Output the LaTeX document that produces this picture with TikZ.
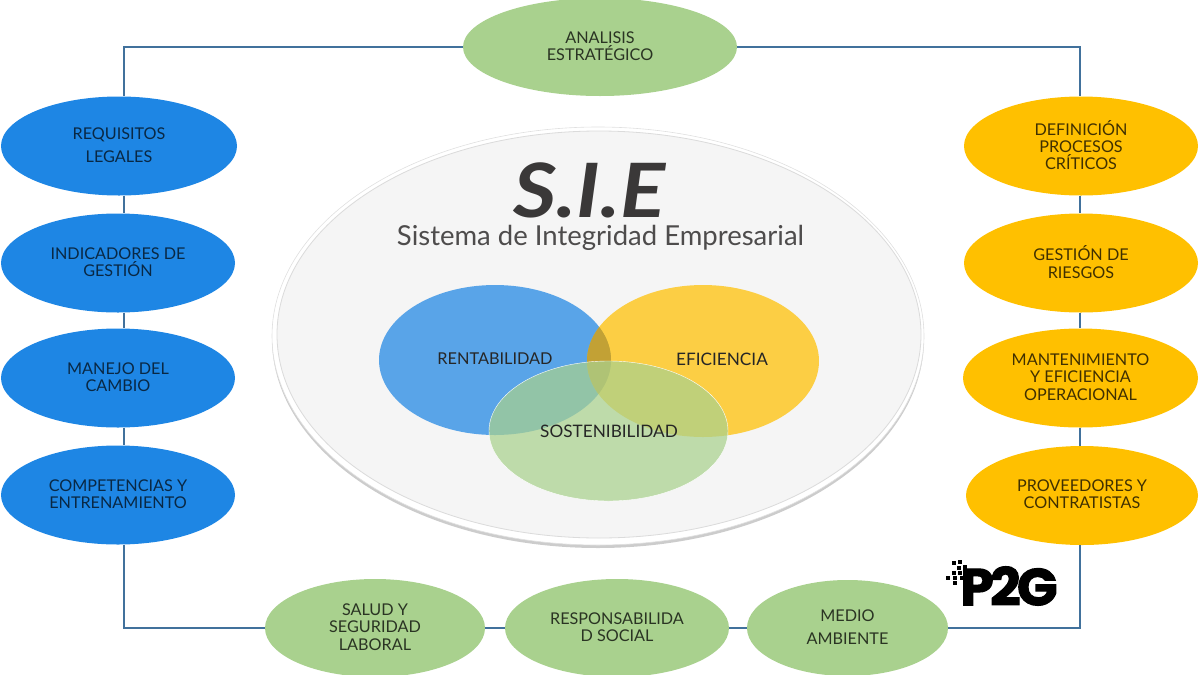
\documentclass[tikz,border=0pt]{standalone}
\usepackage{fontspec}
\setmainfont{Lato}
\newfontfamily\logofont[LetterSpace=-7,FakeBold=2]{Poppins}
\usetikzlibrary{shapes.geometric,shadows}
\definecolor{sieblue}{HTML}{1E86E4}
\definecolor{sieorange}{HTML}{FFC000}
\definecolor{siegreen}{HTML}{A9D18E}
\definecolor{sieline}{HTML}{41719C}
\definecolor{sieink}{HTML}{3A3838}
\definecolor{siebg}{HTML}{F5F5F5}
\definecolor{sieolive}{HTML}{C2A135}

\begin{document}
\begin{tikzpicture}[x=1pt,y=-1pt]
  \tikzstyle{oval}=[ellipse,inner sep=0pt,minimum width=234pt,minimum height=99pt,align=center,
    text depth=2pt,font=\fontsize{16.2}{17.2}\selectfont]
  \tikzstyle{bl}=[oval,fill=sieblue,text=sieblue!30!black]
  \tikzstyle{or}=[oval,fill=sieorange,text=sieorange!25!black]
  \tikzstyle{gr}=[oval,fill=siegreen,text=siegreen!25!black]
  \tikzstyle{venn}=[ellipse,inner sep=0pt,fill opacity=0.72]
  \tikzstyle{lab}=[font=\fontsize{16.3}{20}\selectfont,text=black!85]
  \tikzstyle{ln}=[draw=sieline,line width=1.8pt]
  \useasboundingbox (0,0) rectangle (1200,675);

  \node[ellipse,minimum width=652pt,minimum height=418pt,fill=white,draw=black!12,line width=0.6pt,
    drop shadow={shadow xshift=0pt,shadow yshift=-3pt,opacity=0.4}] (sieout) at (598,336) {};
  \node[ellipse,minimum width=644pt,minimum height=407pt,fill=siebg,draw=black!14,line width=0.8pt] (sie) at (599,334.5) {};

  \node[xscale=1.12,inner sep=0pt,font=\fontsize{75}{75}\selectfont\itshape\bfseries,text=sieink] (sigla) at (589.5,190) {S.I.E};
  \node[inner sep=0pt,font=\fontsize{27.5}{30}\selectfont,text=sieink!90] (nombre) at (600.5,238) {Sistema de Integridad Empresarial};

  \node[venn,fill=sieblue,minimum width=232pt,minimum height=150pt] (rent) at (495,360) {};
  \node[venn,fill=sieorange,minimum width=232pt,minimum height=152pt] (efi) at (703,361) {};
  \begin{scope}
    \clip (495,360) ellipse (116 and 75);
    \fill[sieolive] (703,361) ellipse (116 and 76);
  \end{scope}
  \node[venn,fill=siegreen,draw=white,minimum width=239pt,minimum height=140pt] (sos) at (608.5,431) {};
  \node[lab] (trent) at (495,359) {RENTABILIDAD};
  \node[lab,font=\fontsize{17.2}{20}\selectfont] (tefi) at (722,359) {EFICIENCIA};
  \node[lab,font=\fontsize{17.2}{20}\selectfont] (tsos) at (609,431) {SOSTENIBILIDAD};

  \node[gr,minimum width=274pt,minimum height=98pt] (ana) at (600,47) {ANALISIS\\ESTRATÉGICO};

  \node[bl,minimum width=236pt] (req) at (119,146) {REQUISITOS\\[6.5pt]LEGALES};
  \node[bl] (ind) at (118,263) {INDICADORES DE\\GESTIÓN};
  \node[bl] (man) at (118,378) {MANEJO DEL\\CAMBIO};
  \node[bl] (com) at (118,495) {COMPETENCIAS Y\\ENTRENAMIENTO};

  \node[or] (def) at (1081,146) {DEFINICIÓN\\PROCESOS\\CRÍTICOS};
  \node[or] (ges) at (1081,263) {GESTIÓN DE\\RIESGOS};
  \node[or,minimum width=235pt] (mant) at (1080.5,378) {MANTENIMIENTO\\Y EFICIENCIA\\OPERACIONAL};
  \node[or,minimum width=232pt] (pro) at (1082,495.5) {PROVEEDORES Y\\CONTRATISTAS};

  \node[gr,minimum width=220pt,minimum height=98pt] (sal) at (375,628) {SALUD Y\\SEGURIDAD\\LABORAL};
  \node[gr,minimum width=224pt,minimum height=98pt] (res) at (617,628) {RESPONSABILIDA\\D SOCIAL};
  \node[gr,minimum width=201pt,minimum height=96pt] (med) at (847.5,628) {MEDIO\\[6.5pt]AMBIENTE};

  \draw[ln] (ana.west) -| ([xshift=5pt]req.north);
  \draw[ln] (ana.east) -| ([xshift=-1pt]def.north);
  \draw[ln] ([xshift=5pt]req.south) -- ([xshift=6pt]ind.north);
  \draw[ln] ([xshift=6pt]ind.south) -- ([xshift=6pt]man.north);
  \draw[ln] ([xshift=6pt]man.south) -- ([xshift=6pt]com.north);
  \draw[ln] ([xshift=-1pt]def.south) -- ([xshift=-1pt]ges.north);
  \draw[ln] ([xshift=-1pt]ges.south) -- ([xshift=-0.5pt]mant.north);
  \draw[ln] ([xshift=-0.5pt]mant.south) -- ([xshift=-2pt]pro.north);
  \draw[ln] ([xshift=6pt]com.south) |- (sal.west);
  \draw[ln] (sal.east) -- (res.west);
  \draw[ln] (res.east) -- (med.west);
  \draw[ln] (med.east) -| ([xshift=-2pt]pro.south);

  \node[xscale=1.03,font=\fontsize{52}{52}\logofont\bfseries,text=black,inner sep=0pt] (logo) at (1009,586) {P2G};
  \foreach \cx/\cy in {954/563,960/562,959/568,965/567,954/573,960/573,948/578,955/578,962/578,955/583}
    \fill[black] (\cx-2.2,\cy-2.2) rectangle (\cx+2.2,\cy+2.2);
\end{tikzpicture}
\end{document}
